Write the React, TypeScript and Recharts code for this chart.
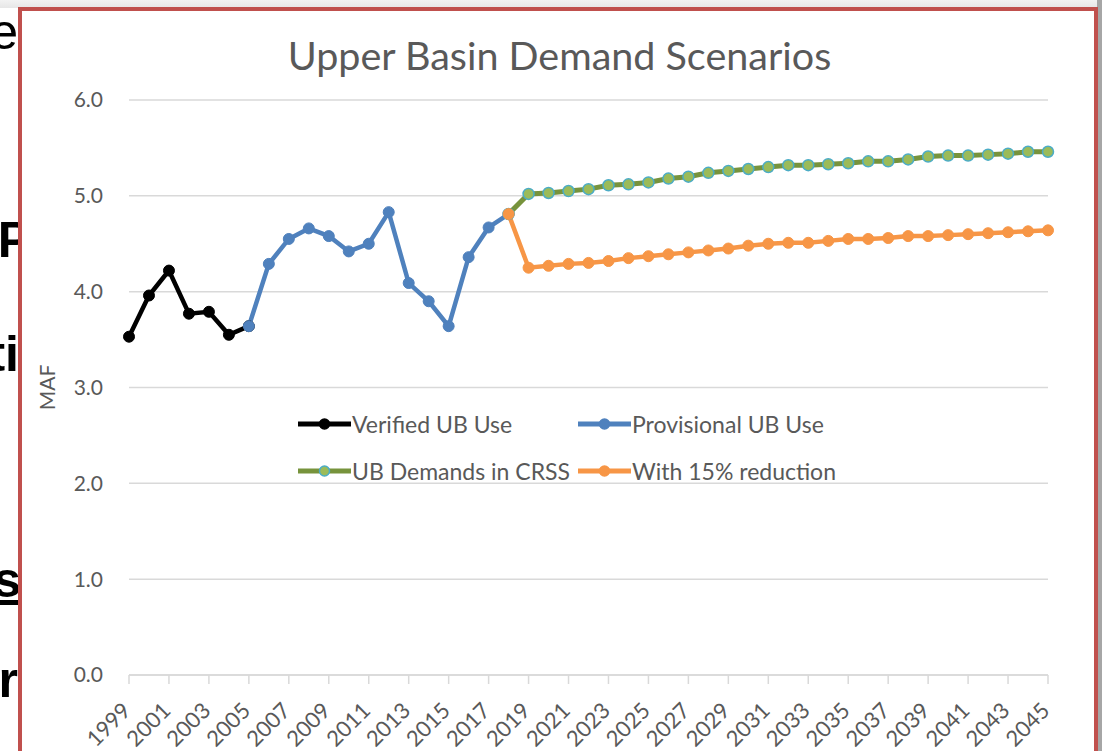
import React from "react";
import {
  LineChart,
  Line,
  XAxis,
  YAxis,
  CartesianGrid,
  Legend,
} from "recharts";

const years = [
  "1999", "2000", "2001", "2002", "2003", "2004", "2005", "2006", "2007", "2008",
  "2009", "2010", "2011", "2012", "2013", "2014", "2015", "2016", "2017", "2018",
  "2019", "2020", "2021", "2022", "2023", "2024", "2025", "2026", "2027", "2028",
  "2029", "2030", "2031", "2032", "2033", "2034", "2035", "2036", "2037", "2038",
  "2039", "2040", "2041", "2042", "2043", "2044", "2045",
];

// 1999-2005
const verifiedUse = [3.53, 3.96, 4.22, 3.77, 3.79, 3.55, 3.64];
// 2005-2018
const provisionalUse = [
  3.64, 4.29, 4.55, 4.66, 4.58, 4.42, 4.5, 4.83, 4.09, 3.9, 3.64, 4.36, 4.67, 4.81,
];
// 2018-2045
const crssDemands = [
  4.81, 5.02, 5.03, 5.05, 5.07, 5.11, 5.12, 5.14, 5.18, 5.2, 5.24, 5.26, 5.28, 5.3,
  5.32, 5.32, 5.33, 5.34, 5.36, 5.36, 5.38, 5.41, 5.42, 5.42, 5.43, 5.44, 5.46, 5.46,
];
// 2018-2045
const reduced15 = [
  4.81, 4.25, 4.27, 4.29, 4.3, 4.32, 4.35, 4.37, 4.39, 4.41, 4.43, 4.45, 4.48, 4.5,
  4.51, 4.51, 4.53, 4.55, 4.55, 4.56, 4.58, 4.58, 4.59, 4.6, 4.61, 4.62, 4.63, 4.64,
];

const yTicks = [0, 1, 2, 3, 4, 5, 6];

const seriesNames = {
  verified: "Verified UB Use",
  provisional: "Provisional UB Use",
  crss: "UB Demands in CRSS",
  reduced: "With 15% reduction",
};
const legendOrder = ["verified", "provisional", "crss", "reduced"];

const PROV_START = years.indexOf("2005");
const PROJ_START = years.indexOf("2018");

const data = years.map((year, i) => ({
  year,
  verified: i < verifiedUse.length ? verifiedUse[i] : null,
  provisional:
    i >= PROV_START && i < PROV_START + provisionalUse.length
      ? provisionalUse[i - PROV_START]
      : null,
  crss: i >= PROJ_START ? crssDemands[i - PROJ_START] : null,
  reduced: i >= PROJ_START ? reduced15[i - PROJ_START] : null,
}));

const FONT = "Lato, 'Open Sans', sans-serif";
const TEXT = "#595959";

const styles: Record<string, { line: string; fill: string; stroke: string }> = {
  verified: { line: "#000000", fill: "#000000", stroke: "#000000" },
  provisional: { line: "#4f81bd", fill: "#4f81bd", stroke: "#4f81bd" },
  crss: { line: "#77933c", fill: "#9bbb59", stroke: "#4bacc6" },
  reduced: { line: "#f79646", fill: "#f79646", stroke: "#f79646" },
};

const YearTick = (props: any) => {
  const { x, y, payload } = props;
  return (
    <g transform={`translate(${x + 3},${y + 28})`}>
      <text
        x={0}
        y={0}
        textAnchor="end"
        transform="rotate(-45)"
        fill={TEXT}
        fontSize={22}
        fontFamily={FONT}
      >
        {payload.value}
      </text>
    </g>
  );
};

const renderLegend = (props: any) => {
  const items = [...(props.payload || [])].sort(
    (a: any, b: any) => legendOrder.indexOf(a.dataKey) - legendOrder.indexOf(b.dataKey)
  );
  return (
    <div
      style={{
        display: "grid",
        gridTemplateColumns: "280px 280px",
        fontFamily: FONT,
        fontSize: 23,
        color: TEXT,
      }}
    >
      {items.map((entry: any) => {
        const s = styles[entry.dataKey];
        return (
          <div
            key={entry.dataKey}
            style={{ display: "flex", alignItems: "center", height: 47, whiteSpace: "nowrap" }}
          >
            <svg width={53} height={14} style={{ marginRight: 1 }}>
              <line x1={0} y1={7} x2={53} y2={7} stroke={s.line} strokeWidth={5} />
              <circle cx={26.5} cy={7} r={5} fill={s.fill} stroke={s.stroke} strokeWidth={1.5} />
            </svg>
            <span>{entry.value}</span>
          </div>
        );
      })}
    </div>
  );
};

const slideText = [
  { text: "e", top: 4, right: 1, bold: false, underline: false },
  { text: "P", top: 212, right: -12, bold: true, underline: false },
  { text: "ti", top: 326, right: 0, bold: true, underline: false },
  { text: "as", top: 552, right: -2, bold: true, underline: true },
  { text: "r", top: 652, right: 1, bold: true, underline: false },
];

export default function App() {
  return (
    <div
      style={{
        position: "absolute",
        left: 0,
        top: 0,
        width: 1102,
        height: 751,
        overflow: "hidden",
        background: "#ffffff",
      }}
    >
      <div
        style={{
          position: "absolute",
          left: 0,
          top: 0,
          width: 1102,
          height: 8,
          background: "linear-gradient(#f2f2f2, #e6e6e6)",
        }}
      />
      <div
        style={{
          position: "absolute",
          left: 1097,
          top: 0,
          width: 5,
          height: 751,
          background: "#a6a6a6",
        }}
      />
      <div
        style={{
          position: "absolute",
          left: 0,
          top: 0,
          width: 19,
          height: 751,
          overflow: "hidden",
        }}
      >
        {slideText.map((t) => (
          <span
            key={t.text}
            style={{
              position: "absolute",
              top: t.top,
              right: t.right,
              fontFamily: "'Liberation Sans', Arial, sans-serif",
              fontSize: 50,
              lineHeight: "56px",
              fontWeight: t.bold ? 700 : 400,
              textDecoration: t.underline ? "underline" : "none",
              color: "#000",
            }}
          >
            {t.text}
          </span>
        ))}
      </div>
      <div
        style={{
          position: "absolute",
          left: 18,
          top: 7,
          width: 1072,
          height: 760,
          border: "4px solid #c0504d",
          background: "#ffffff",
        }}
      />
      <div
        style={{
          position: "absolute",
          left: 0,
          top: 36,
          width: 1119,
          textAlign: "center",
          fontFamily: FONT,
          fontSize: 39.5,
          lineHeight: "38px",
          color: TEXT,
        }}
      >
        Upper Basin Demand Scenarios
      </div>
      <div style={{ position: "absolute", left: 0, top: 0 }}>
        <LineChart
          width={1102}
          height={751}
          data={data}
          margin={{ top: 100, right: 54, left: 30, bottom: 0 }}
        >
          <CartesianGrid horizontal vertical={false} stroke="#d9d9d9" strokeWidth={1.5} />
          <XAxis
            dataKey="year"
            interval={1}
            height={76}
            tickSize={9}
            tickMargin={0}
            axisLine={{ stroke: "#d9d9d9", strokeWidth: 1.5 }}
            tickLine={{ stroke: "#d9d9d9", strokeWidth: 1.5 }}
            tick={<YearTick />}
          />
          <YAxis
            width={99}
            domain={[0, 6]}
            ticks={yTicks}
            axisLine={false}
            tickLine={false}
            tickMargin={20}
            tickFormatter={(v: number) => v.toFixed(1)}
            tick={{ fill: TEXT, fontSize: 21, fontFamily: FONT }}
            label={{
              value: "MAF",
              angle: -90,
              position: "insideLeft",
              offset: 18,
              style: { textAnchor: "middle", fill: TEXT, fontSize: 21, fontFamily: FONT },
            }}
          />
          <Legend
            layout="vertical"
            align="center"
            verticalAlign="middle"
            content={renderLegend}
            wrapperStyle={{ left: 298, top: 400, width: 580 }}
          />
          <Line
            dataKey="verified"
            name={seriesNames.verified}
            stroke={styles.verified.line}
            strokeWidth={4.5}
            dot={{ r: 5.5, fill: styles.verified.fill, stroke: styles.verified.stroke, strokeWidth: 1 }}
            isAnimationActive={false}
          />
          <Line
            dataKey="provisional"
            name={seriesNames.provisional}
            stroke={styles.provisional.line}
            strokeWidth={4.5}
            dot={{ r: 5.5, fill: styles.provisional.fill, stroke: styles.provisional.stroke, strokeWidth: 1 }}
            isAnimationActive={false}
          />
          <Line
            dataKey="crss"
            name={seriesNames.crss}
            stroke={styles.crss.line}
            strokeWidth={5}
            dot={{ r: 5.5, fill: styles.crss.fill, stroke: styles.crss.stroke, strokeWidth: 1.5 }}
            isAnimationActive={false}
          />
          <Line
            dataKey="reduced"
            name={seriesNames.reduced}
            stroke={styles.reduced.line}
            strokeWidth={4.5}
            dot={{ r: 5.5, fill: styles.reduced.fill, stroke: styles.reduced.stroke, strokeWidth: 1 }}
            isAnimationActive={false}
          />
        </LineChart>
      </div>
    </div>
  );
}
